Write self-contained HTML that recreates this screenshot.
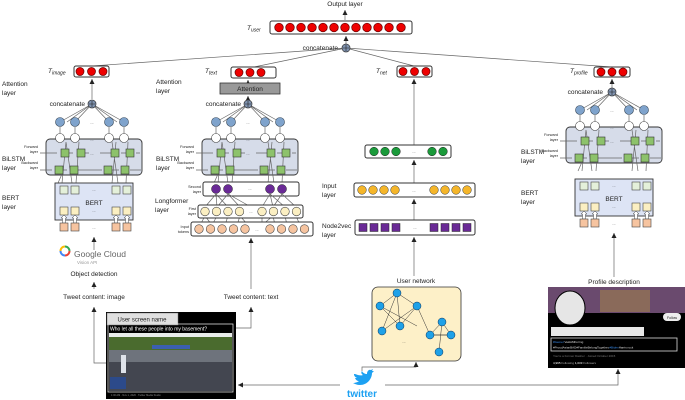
<!DOCTYPE html>
<html><head><meta charset="utf-8"><style>
body{margin:0;background:#fff}
svg{display:block;font-family:"Liberation Sans",sans-serif}
text{fill:#222}
.l{font-size:6.5px}
.s{font-size:3.8px}
.ln{stroke:#666;stroke-width:0.7;fill:none}
.bx{fill:#fff;stroke:#333;stroke-width:1}
.r{fill:#e00;stroke:#600;stroke-width:0.7}
.b{fill:#7fa3cc;stroke:#345;stroke-width:0.6}
.w{fill:#fff;stroke:#444;stroke-width:0.6}
.g{fill:#8dc26b;stroke:#333;stroke-width:0.6}
.lg{fill:#e4f0da;stroke:#444;stroke-width:0.6}
.y{fill:#fbefc2;stroke:#444;stroke-width:0.6}
.o{fill:#f6c4a0;stroke:#444;stroke-width:0.6}
.cc{fill:#7f93b0;stroke:#333;stroke-width:0.7}
</style></head><body>
<svg width="685" height="400" viewBox="0 0 685 400">
<defs>
<marker id="a" markerWidth="6" markerHeight="6" refX="5" refY="3" orient="auto" markerUnits="userSpaceOnUse"><path d="M0,0.5L5,3L0,5.5z" fill="#222"/></marker>
<g id="cc"><circle r="4" class="cc"/><path d="M-3,0H3M0,-3V3" stroke="#222" stroke-width="0.6"/></g>
<g id="bil">
 <g class="ln">
  <path d="M92,104L60,122M92,104L75,122M92,104L109,122M92,104L124,122M92,104L67,122M92,104L117,122"/>
  <path d="M60,127V134M75,127V134M109,127V134M124,127V134"/>
 </g>
 <circle cx="60" cy="122" r="4.5" class="b"/><circle cx="75" cy="122" r="4.5" class="b"/>
 <circle cx="109" cy="122" r="4.5" class="b"/><circle cx="124" cy="122" r="4.5" class="b"/>
 <text x="92" y="124" class="s" text-anchor="middle">...</text>
 <rect x="46" y="139" width="96" height="36" rx="4" fill="#d6dce9" stroke="#333" stroke-width="0.9"/>
 <circle cx="60" cy="138" r="4.5" class="w"/><circle cx="75" cy="138" r="4.5" class="w"/>
 <circle cx="109" cy="138" r="4.5" class="w"/><circle cx="124" cy="138" r="4.5" class="w"/>
 <text x="92" y="141" class="s" text-anchor="middle">...</text>
 <g class="ln"><path d="M40,153H57M69,153H73M85,153H89M100,153H111M121,153H126M40,170H52M63,170H67M78,170H102M112,170H119M130,170H141M140,153H136"/>
 <path d="M62,183L66,142M76,183L79,142M112,183L116,142M126,183L128,142M58,183L62,174M72,183L66,142M118,183L112,142"/></g>
 <rect x="61" y="149" width="8" height="8" class="g"/><rect x="77" y="149" width="8" height="8" class="g"/>
 <rect x="111" y="149" width="8" height="8" class="g"/><rect x="126" y="149" width="8" height="8" class="g"/>
 <rect x="55" y="166" width="8" height="8" class="g"/><rect x="70" y="166" width="8" height="8" class="g"/>
 <rect x="104" y="166" width="8" height="8" class="g"/><rect x="121" y="166" width="8" height="8" class="g"/>
 <text x="92" y="155" class="s" text-anchor="middle">...</text>
 <text x="38" y="148" class="s" text-anchor="end">Forward</text><text x="38" y="153" class="s" text-anchor="end">layer</text>
 <text x="38" y="164" class="s" text-anchor="end">Backward</text><text x="38" y="169" class="s" text-anchor="end">layer</text>
</g>
<g id="bert">
 <rect x="55" y="183" width="78" height="37" fill="#dde4f5" stroke="#333" stroke-width="0.9"/>
 <rect x="60" y="186" width="8" height="8" class="lg"/><rect x="71" y="186" width="8" height="8" class="lg"/>
 <rect x="112" y="186" width="8" height="8" class="lg"/><rect x="123" y="186" width="8" height="8" class="lg"/>
 <text x="94" y="191" class="s" text-anchor="middle">...</text>
 <text x="94" y="205" style="font-size:6.5px" text-anchor="middle">BERT</text>
 <rect x="60" y="207" width="8" height="8" class="y"/><rect x="71" y="207" width="8" height="8" class="y"/>
 <rect x="112" y="207" width="8" height="8" class="y"/><rect x="123" y="207" width="8" height="8" class="y"/>
 <text x="94" y="212" class="s" text-anchor="middle">...</text>
 <g stroke="#444" stroke-width="0.5" fill="#fff"><path d="M62.5,223V218H61L64,215L67,218H65.5V223zM73.5,223V218H72L75,215L78,218H76.5V223zM114.5,223V218H113L116,215L119,218H117.5V223zM125.5,223V218H124L127,215L130,218H128.5V223z"/></g>
 <rect x="60" y="223" width="8" height="8" class="o"/><rect x="71" y="223" width="8" height="8" class="o"/>
 <rect x="112" y="223" width="8" height="8" class="o"/><rect x="123" y="223" width="8" height="8" class="o"/>
 <text x="94" y="229" class="s" text-anchor="middle">...</text>
</g>
</defs>

<text x="345" y="6" class="l" text-anchor="middle">Output layer</text>
<path d="M345,20V10" class="ln" marker-end="url(#a)"/>
<text x="247" y="30" class="l" font-style="italic">T<tspan font-size="5" dy="1.5">user</tspan></text>
<rect x="270" y="21" width="142" height="13" rx="2" class="bx"/>
<g class="r"><circle cx="279" cy="27.5" r="4.3"/><circle cx="290" cy="27.5" r="4.3"/><circle cx="301" cy="27.5" r="4.3"/><circle cx="312" cy="27.5" r="4.3"/><circle cx="323" cy="27.5" r="4.3"/><circle cx="334" cy="27.5" r="4.3"/><circle cx="345" cy="27.5" r="4.3"/><circle cx="356" cy="27.5" r="4.3"/><circle cx="367" cy="27.5" r="4.3"/><circle cx="378" cy="27.5" r="4.3"/><circle cx="389" cy="27.5" r="4.3"/><circle cx="401" cy="27.5" r="4.3"/></g>
<path d="M346,44V36" class="ln" marker-end="url(#a)"/>
<text x="338" y="50" class="l" text-anchor="end">concatenate</text>
<g class="ln"><path d="M92,66L346,48M254,67L346,48M414,66L346,48M612,67L346,48"/></g>
<use href="#cc" x="346" y="48"/>

<text x="48" y="73" class="l" font-style="italic">T<tspan font-size="5" dy="1.5">image</tspan></text>
<rect x="74" y="66" width="35" height="11" rx="2" class="bx"/>
<g class="r"><circle cx="80" cy="71.5" r="4"/><circle cx="91.5" cy="71.5" r="4"/><circle cx="103" cy="71.5" r="4"/></g>
<text x="205" y="73" class="l" font-style="italic">T<tspan font-size="5" dy="1.5">text</tspan></text>
<rect x="231" y="67" width="45" height="11" rx="2" class="bx"/>
<g class="r"><circle cx="239" cy="72.5" r="4"/><circle cx="250" cy="72.5" r="4"/><circle cx="261" cy="72.5" r="4"/></g>
<text x="376" y="73" class="l" font-style="italic">T<tspan font-size="5" dy="1.5">net</tspan></text>
<rect x="397" y="66" width="35" height="11" rx="2" class="bx"/>
<g class="r"><circle cx="403" cy="71.5" r="4"/><circle cx="414.5" cy="71.5" r="4"/><circle cx="426" cy="71.5" r="4"/></g>
<text x="570" y="73" class="l" font-style="italic">T<tspan font-size="5" dy="1.5">profile</tspan></text>
<rect x="594" y="67" width="36" height="10" rx="2" class="bx"/>
<g class="r"><circle cx="601" cy="72" r="4"/><circle cx="612" cy="72" r="4"/><circle cx="623" cy="72" r="4"/></g>

<text x="2" y="86" class="l">Attention</text><text x="2" y="95" class="l">layer</text>
<path d="M92,99V79" class="ln" marker-end="url(#a)"/>
<text x="85" y="106" class="l" text-anchor="end">concatenate</text>
<use href="#bil"/><use href="#cc" x="92" y="104"/>
<use href="#bert"/>
<text x="2" y="161" class="l">BiLSTM</text><text x="2" y="170" class="l">layer</text>
<text x="2" y="200" class="l">BERT</text><text x="2" y="209" class="l">layer</text>
<path d="M94,250V237" class="ln" stroke="#222" marker-end="url(#a)"/>

<text x="156" y="84" class="l">Attention</text><text x="156" y="93" class="l">layer</text>
<path d="M248,83V80" class="ln" marker-end="url(#a)"/>
<rect x="220" y="83" width="60" height="11" fill="#999" stroke="#333" stroke-width="0.8"/>
<text x="250" y="91" class="l" text-anchor="middle">Attention</text>
<path d="M248,100V96" class="ln" marker-end="url(#a)"/>
<text x="241" y="106" class="l" text-anchor="end">concatenate</text>
<g transform="translate(156,0)"><use href="#bil"/><use href="#cc" x="92" y="104"/></g>
<text x="156" y="161" class="l">BiLSTM</text><text x="156" y="170" class="l">layer</text>
<text x="155" y="203" class="l">Longformer</text><text x="155" y="212" class="l">layer</text>
<rect x="203" y="182" width="96" height="14" rx="2" class="bx"/>
<text x="201" y="188" class="s" text-anchor="end">Second</text><text x="201" y="193" class="s" text-anchor="end">layer</text>
<g fill="#6a2a96" stroke="#222" stroke-width="0.5"><circle cx="216" cy="189" r="4.5"/><circle cx="228" cy="189" r="4.5"/><circle cx="270" cy="189" r="4.5"/><circle cx="282" cy="189" r="4.5"/></g>
<text x="250" y="190" class="s" text-anchor="middle">...</text>
<g class="ln" stroke-width="0.4"><path d="M216,194L205,207M216,194L217,207M216,194L228,207M228,194L217,207M228,194L240,207M228,194L251,207M270,194L262,207M270,194L273,207M270,194L285,207M282,194L273,207M282,194L296,207M205,216L200,225M217,216L212,225M228,216L225,225M240,216L237,225M262,216L262,225M273,216L275,225M285,216L287,225M296,216L300,225M205,216L212,225M240,216L248,225M273,216L262,225"/></g>
<rect x="198" y="205" width="105" height="13" rx="2" class="bx"/>
<text x="196" y="210" class="s" text-anchor="end">First</text><text x="196" y="215" class="s" text-anchor="end">layer</text>
<g class="y"><circle cx="205" cy="211.5" r="4.3"/><circle cx="216.5" cy="211.5" r="4.3"/><circle cx="228" cy="211.5" r="4.3"/><circle cx="239.5" cy="211.5" r="4.3"/><circle cx="262" cy="211.5" r="4.3"/><circle cx="273.5" cy="211.5" r="4.3"/><circle cx="285" cy="211.5" r="4.3"/><circle cx="296.5" cy="211.5" r="4.3"/></g>
<text x="251" y="213" class="s" text-anchor="middle">...</text>
<rect x="191" y="222" width="122" height="14" rx="2" class="bx"/>
<text x="189" y="228" class="s" text-anchor="end">Input</text><text x="189" y="233" class="s" text-anchor="end">tokens</text>
<g class="o"><circle cx="199" cy="229" r="4.3"/><circle cx="210.5" cy="229" r="4.3"/><circle cx="222" cy="229" r="4.3"/><circle cx="233.5" cy="229" r="4.3"/><circle cx="245" cy="229" r="4.3"/><circle cx="270" cy="229" r="4.3"/><circle cx="281.5" cy="229" r="4.3"/><circle cx="293" cy="229" r="4.3"/><circle cx="304.5" cy="229" r="4.3"/></g>
<text x="257" y="231" class="s" text-anchor="middle">...</text>

<path d="M414,145V79" class="ln" marker-end="url(#a)"/>
<rect x="365" y="145" width="86" height="13" rx="2" class="bx"/>
<g fill="#1a9a3a" stroke="#222" stroke-width="0.5"><circle cx="374" cy="151.5" r="4.3"/><circle cx="385" cy="151.5" r="4.3"/><circle cx="396" cy="151.5" r="4.3"/><circle cx="432" cy="151.5" r="4.3"/><circle cx="443" cy="151.5" r="4.3"/></g>
<text x="414" y="153" class="s" text-anchor="middle">...</text>
<path d="M414,183V160" class="ln" marker-end="url(#a)"/>
<text x="322" y="188" class="l">Input</text><text x="322" y="197" class="l">layer</text>
<rect x="354" y="183" width="121" height="14" rx="2" class="bx"/>
<g fill="#f5b62a" stroke="#333" stroke-width="0.5"><circle cx="362" cy="190" r="4.3"/><circle cx="373" cy="190" r="4.3"/><circle cx="384" cy="190" r="4.3"/><circle cx="395" cy="190" r="4.3"/><circle cx="434" cy="190" r="4.3"/><circle cx="445" cy="190" r="4.3"/><circle cx="456" cy="190" r="4.3"/><circle cx="467" cy="190" r="4.3"/></g>
<text x="414" y="192" class="s" text-anchor="middle">...</text>
<path d="M414,220V199" class="ln" marker-end="url(#a)"/>
<text x="322" y="228" class="l">Node2vec</text><text x="322" y="237" class="l">layer</text>
<rect x="355" y="220" width="120" height="15" rx="2" class="bx"/>
<g fill="#6a2a96" stroke="#222" stroke-width="0.5"><rect x="359" y="223.5" width="8" height="8"/><rect x="370" y="223.5" width="8" height="8"/><rect x="381" y="223.5" width="8" height="8"/><rect x="392" y="223.5" width="8" height="8"/><rect x="430" y="223.5" width="8" height="8"/><rect x="441" y="223.5" width="8" height="8"/><rect x="452" y="223.5" width="8" height="8"/><rect x="463" y="223.5" width="8" height="8"/></g>
<text x="415" y="229" class="s" text-anchor="middle">...</text>
<path d="M414,276V237" class="ln" marker-end="url(#a)"/>

<path d="M612,88V79" class="ln" marker-end="url(#a)"/>
<text x="603" y="94" class="l" text-anchor="end">concatenate</text>
<g transform="translate(520,-12)"><use href="#bil"/><use href="#cc" x="92" y="104"/></g>
<g transform="translate(520,-4)"><use href="#bert"/></g>
<text x="521" y="154" class="l">BiLSTM</text><text x="521" y="163" class="l">layer</text>
<text x="521" y="195" class="l">BERT</text><text x="521" y="204" class="l">layer</text>
<path d="M614,277V233" class="ln" stroke="#444" marker-end="url(#a)"/>

<g transform="translate(65,251)"><circle r="4.5" fill="none" stroke="#e94235" stroke-width="2" stroke-dasharray="7 21"/><circle r="4.5" fill="none" stroke="#4285f4" stroke-width="2" stroke-dasharray="7 21" stroke-dashoffset="-7"/><circle r="4.5" fill="none" stroke="#fbbc04" stroke-width="2" stroke-dasharray="7 21" stroke-dashoffset="-14"/><circle r="4.5" fill="none" stroke="#34a853" stroke-width="2" stroke-dasharray="7 21" stroke-dashoffset="-21"/></g>
<text x="74" y="257" style="font-size:8.5px;fill:#666">Google Cloud</text>
<text x="77" y="264" style="font-size:4.5px;fill:#999">Vision API</text>
<text x="94" y="276" class="l" text-anchor="middle">Object detection</text>
<path d="M94,289V282" class="ln" stroke="#222" marker-end="url(#a)"/>
<text x="94" y="299" class="l" text-anchor="middle">Tweet content: image</text>
<text x="251" y="299" class="l" text-anchor="middle">Tweet content: text</text>
<path d="M251,289V238" class="ln" stroke="#222" marker-end="url(#a)"/>
<path d="M108,363H94V307" class="ln" stroke="#222" marker-end="url(#a)"/>
<path d="M236,328H251V307" class="ln" stroke="#222" marker-end="url(#a)"/>

<rect x="106" y="312" width="130" height="87" fill="#000"/>
<rect x="107" y="313" width="71" height="12" fill="#e0e0e0" stroke="#777" stroke-width="0.5"/>
<text x="142" y="321.5" style="font-size:6px" text-anchor="middle">User screen name</text>
<rect x="108" y="324" width="125" height="68" fill="none" stroke="#ddd" stroke-width="0.8"/>
<text x="110" y="330.5" style="font-size:5px;fill:#fff">Who let all these people into my basement?</text>
<rect x="109" y="333" width="123" height="4" fill="#e8ecea"/>
<rect x="109" y="337" width="123" height="13" fill="#4a6b2e"/>
<rect x="109" y="350" width="123" height="41" fill="#6e737c"/>
<rect x="109" y="362" width="123" height="29" fill="#434650"/>
<rect x="152" y="345" width="38" height="4" fill="#3b5fb0"/>
<rect x="121" y="355" width="5" height="18" fill="#dfe3ea"/>
<rect x="110" y="377" width="16" height="12" fill="#2c4a8a"/>
<text x="111" y="396" style="font-size:2.5px;fill:#888">1:00 AM · Nov 1, 2020 · Twitter Media Studio</text>

<text x="416" y="283" class="l" text-anchor="middle">User network</text>
<rect x="372" y="287" width="89" height="74" rx="6" fill="#fdf0c8" stroke="#333" stroke-width="0.8"/>
<g stroke="#333" stroke-width="0.5"><path d="M397,293L380,306M397,293L417,306M397,293L382,331M397,293L400,326M380,306L400,326M380,306L417,326M417,306L400,326M417,306L382,331M417,306L430,335M430,335L442,322M430,335L451,335M442,322L451,335M442,322L439,352M430,335L451,335"/></g>
<g fill="#1ea1e8" stroke="#135" stroke-width="0.5"><circle cx="397" cy="293" r="4"/><circle cx="380" cy="306" r="4"/><circle cx="417" cy="306" r="4"/><circle cx="382" cy="331" r="4"/><circle cx="400" cy="326" r="4"/><circle cx="430" cy="335" r="4"/><circle cx="442" cy="322" r="4"/><circle cx="451" cy="335" r="4"/><circle cx="439" cy="352" r="4"/></g>
<text x="404" y="343" class="s" text-anchor="middle">...</text>

<text x="614" y="284" class="l" text-anchor="middle">Profile description</text>
<rect x="548" y="287" width="137" height="81" fill="#000"/>
<rect x="548" y="287" width="137" height="26" fill="#6a4a6e"/>
<rect x="600" y="290" width="50" height="22" fill="#8a6a5a"/>
<ellipse cx="570" cy="308" rx="15" ry="17" fill="#e6e6e6" stroke="#000" stroke-width="1"/>
<rect x="663" y="313" width="18" height="8" rx="4" fill="#eee"/>
<text x="672" y="319" style="font-size:3.5px" text-anchor="middle">Follow</text>
<rect x="551" y="327" width="93" height="9" fill="#e8e8e8"/>
<rect x="551" y="338" width="126" height="13" fill="none" stroke="#ddd" stroke-width="0.8"/>
<text x="553" y="343" style="font-size:3px;fill:#ddd"><tspan fill="#3a8ef0">#Gemel</tspan> VaHAMForrng</text>
<text x="553" y="348.5" style="font-size:3px;fill:#ddd">#ProudAsianBAD#FamilieBelongTogether,<tspan fill="#3a8ef0">#Biden</tspan>Harris rock</text>
<text x="553" y="357" style="font-size:3px;fill:#777">You're a Former Dasher  ·  Joined October 2015</text>
<text x="553" y="364" style="font-size:3px;fill:#aaa"><tspan fill="#fff">4,995</tspan> Following  <tspan fill="#fff">1,033</tspan> Followers</text>

<path d="M355,374c3,1 5,2 8,1c-2,-1 -2,-3 -1,-4c1,2 3,3 5,3c0,-3 2,-5 4,-4l2,-1l-1,2l2,0l-2,2c0,6 -5,12 -12,12c-3,0 -5,-1 -7,-2c2,0 5,-1 6,-2c-2,0 -3,-1 -4,-3l2,0c-2,-1 -3,-2 -3,-4z" fill="#1da1f2"/>
<text x="362" y="397" style="font-size:10px;font-weight:bold;fill:#1da1f2" text-anchor="middle">twitter</text>
<path d="M362,371V367H416V362" class="ln" stroke="#222" marker-end="url(#a)"/>
<path d="M340,385H238" class="ln" stroke="#222" stroke-width="0.9" marker-end="url(#a)"/>
<path d="M385,385H618V369" class="ln" stroke="#222" stroke-width="0.9" marker-end="url(#a)"/>
</svg>
</body></html>
